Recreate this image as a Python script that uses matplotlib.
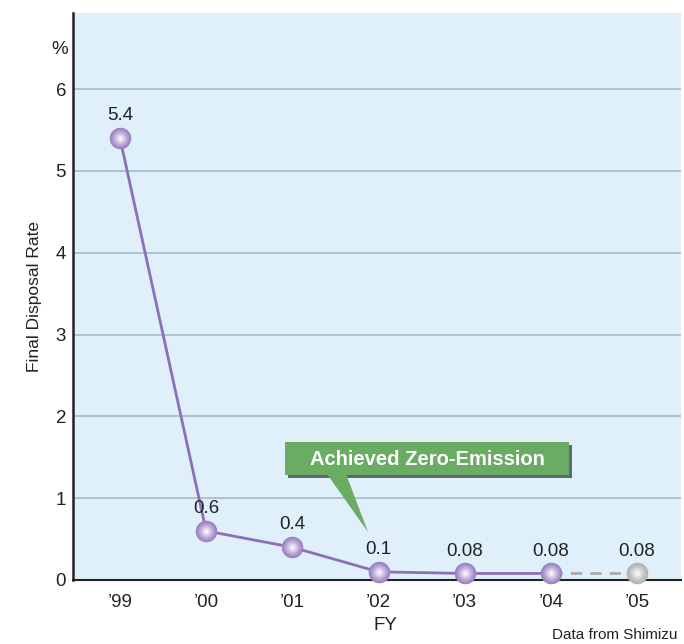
import numpy as np
import matplotlib
matplotlib.use('Agg')
import matplotlib.pyplot as plt
from matplotlib.patches import Rectangle, Polygon
from matplotlib.colors import to_rgb

plt.rcParams['font.family'] = ['Liberation Sans', 'DejaVu Sans']

# %% data
years = ['\u201999', '\u201900', '\u201901', '\u201902', '\u201903', '\u201904', '\u201905']
rates = [5.4, 0.6, 0.4, 0.1, 0.08, 0.08, 0.08]
rate_labels = ['5.4', '0.6', '0.4', '0.1', '0.08', '0.08', '0.08']
n_actual = 6  # '99-'04 actual, '05 shown in grey

# %% figure
fig = plt.figure(figsize=(6.84, 6.44), dpi=100)
ax = fig.add_axes([73 / 684, 1 - 580 / 644, 608 / 684, 567 / 644])
ax.set_facecolor('#dff0fa')

xs = np.arange(len(years))
ax.set_xlim(-0.545, 6.51)
ax.set_ylim(0, 6.93)

for y in range(1, 7):
    ax.axhline(y, color='#a2bcc6', linewidth=1.2, zorder=1)

# lines
ax.plot(xs[:n_actual], rates[:n_actual], color='#8b6fb9', linewidth=2, zorder=3)
ax.plot(xs[n_actual - 1:], rates[n_actual - 1:], color='#aaaaaa', linewidth=2,
        linestyle=(0, (4, 3)), zorder=3)


# shaded "sphere" markers, built up from concentric circles
def spheres(x, y, c_out, c_in):
    c0 = np.array(to_rgb(c_out))
    c1 = np.array(to_rgb(c_in))
    steps = 16
    for i in range(steps):
        t = i / (steps - 1)
        size = 15.5 * (1 - 0.9 * t)
        w = t ** 1.2
        col = c0 * (1 - w) + c1 * w
        ax.scatter(x, y, s=size ** 2, color=col, linewidths=0, zorder=4 + i * 0.01,
                   clip_on=False)


spheres(xs[:n_actual], rates[:n_actual], '#9a80c4', '#faf7fd')
spheres(xs[n_actual:], rates[n_actual:], '#b2b2b2', '#f8f8f8')

for x, y, lab in zip(xs, rates, rate_labels):
    ax.annotate(lab, (x, y), xytext=(0, 10), textcoords='offset points',
                ha='center', va='bottom', fontsize=13.5, color='#222222', zorder=6)

# %% axes styling
ax.set_xticks(xs)
ax.set_xticklabels(years)
ax.set_yticks(range(0, 7))
ax.tick_params(axis='both', length=0, labelsize=13.5, colors='#222222')
ax.tick_params(axis='x', pad=10)
ax.tick_params(axis='y', pad=5)
for s in ['top', 'right']:
    ax.spines[s].set_visible(False)
ax.spines['left'].set_linewidth(1.8)
ax.spines['bottom'].set_linewidth(1.5)
ax.spines['left'].set_color('#222222')
ax.spines['bottom'].set_color('#222222')

ax.set_ylabel('Final Disposal Rate', fontsize=12.5, labelpad=10, color='#222222')
fig.text(68 / 684, 1 - 50 / 644, '%', ha='right', va='center', fontsize=13.5, color='#222222')
fig.text(385 / 684, 1 - 625 / 644, 'FY', ha='center', va='center', fontsize=13.5, color='#222222')
fig.text(678 / 684, 1 - 635 / 644, 'Data from Shimizu', ha='right', va='center',
         fontsize=11, color='#222222')

# %% callout
def px(x, y):
    # figure pixel -> figure fraction
    return (x / 684, 1 - y / 644)

green = '#6aac64'
shadow = '#5c6b70'
bx0, by0, bx1, by1 = 285, 442, 569, 475
fig.patches.append(Rectangle(px(bx0 + 3, by1 + 3), (bx1 - bx0) / 684, (by1 - by0) / 644,
                             transform=fig.transFigure, facecolor=shadow, edgecolor='none', zorder=7))
fig.patches.append(Rectangle(px(bx0, by1), (bx1 - bx0) / 684, (by1 - by0) / 644,
                             transform=fig.transFigure, facecolor=green, edgecolor='none', zorder=8))
fig.patches.append(Polygon([px(327, 474), px(346, 474), px(368, 532)], closed=True,
                           transform=fig.transFigure, facecolor=green, edgecolor='none', zorder=8))
fig.text(*px((bx0 + bx1) / 2, (by0 + by1) / 2 + 1), 'Achieved Zero-Emission', ha='center',
         va='center', fontsize=14.5, fontweight='bold', color='white', zorder=9)

fig.savefig('out.png', dpi=100)
